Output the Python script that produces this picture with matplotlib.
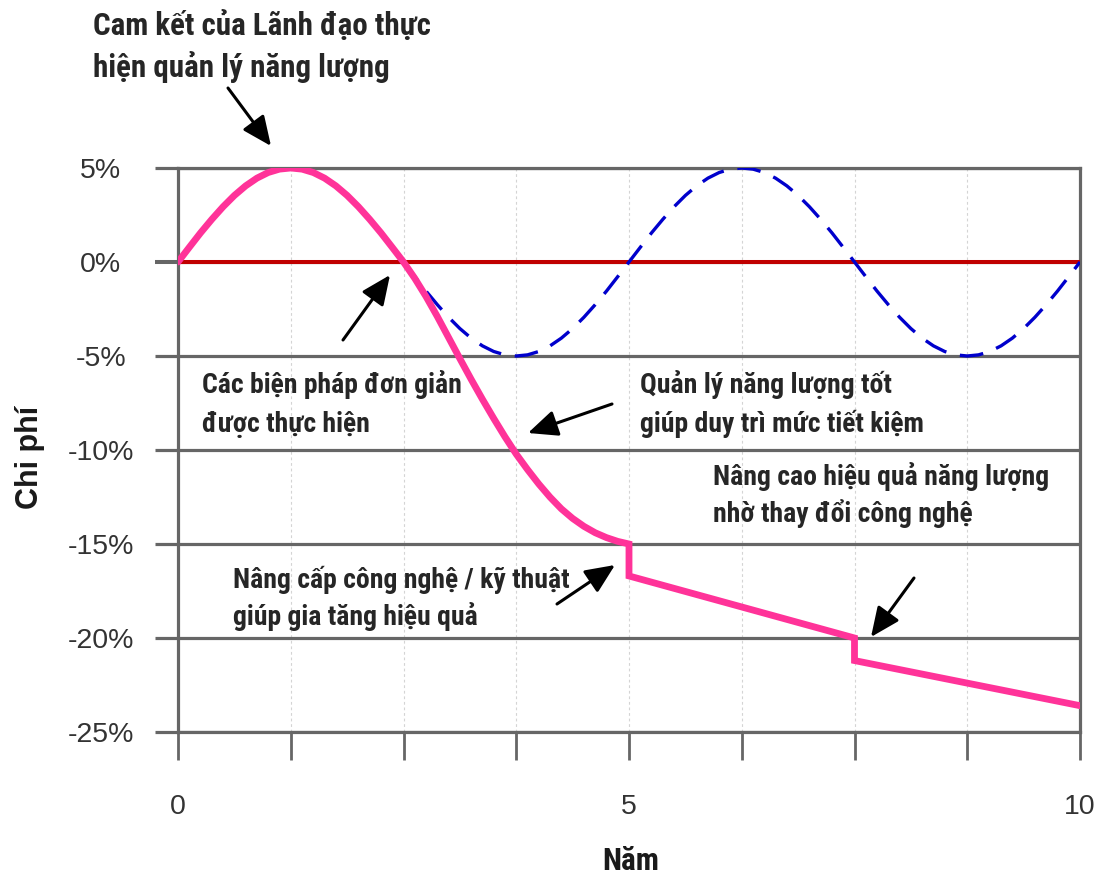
import numpy as np
import matplotlib
matplotlib.use("Agg")
import matplotlib.pyplot as plt
from matplotlib import font_manager
from matplotlib.patches import ArrowStyle

# ---------------- data ----------------
years_tick = [0, 1.25, 2.5, 3.75, 5, 6.25, 7.5, 8.75, 10]
year_labels = ["0", "", "", "", "5", "", "", "", "10"]
cost_ticks = [5, 0, -5, -10, -15, -20, -25]
cost_labels = ["5%", "0%", "-5%", "-10%", "-15%", "-20%", "-25%"]

# actual cost path (pink), smooth part years 0..5 every 0.125
pink_years = [0.0, 0.125, 0.25, 0.375, 0.5, 0.625, 0.75, 0.875, 1.0, 1.125, 1.25,
              1.375, 1.5, 1.625, 1.75, 1.875, 2.0, 2.125, 2.25, 2.375, 2.5,
              2.625, 2.75, 2.875, 3.0, 3.125, 3.25, 3.375, 3.5, 3.625, 3.75,
              3.875, 4.0, 4.125, 4.25, 4.375, 4.5, 4.625, 4.75, 4.875, 5.0,
              5.0, 7.5, 7.5, 10.0]
pink_cost = [0.0, 0.78, 1.55, 2.27, 2.94, 3.54, 4.05, 4.46, 4.76, 4.94, 5.0,
             4.94, 4.76, 4.46, 4.05, 3.54, 2.94, 2.27, 1.55, 0.78, 0.0,
             -0.87, -1.84, -2.9, -4.02, -5.14, -6.24, -7.3, -8.32, -9.3, -10.22,
             -11.04, -11.81, -12.51, -13.13, -13.64, -14.06, -14.4, -14.66, -14.86, -15.0,
             -16.7, -20.0, -21.2, -23.6]

# cost without sustained management (blue dashed), years 2.5..10 every 0.125
blue_years = [2.5 + 0.125 * i for i in range(61)]
blue_cost = [0.0, -0.78, -1.55, -2.27, -2.94, -3.54, -4.05, -4.46, -4.76, -4.94, -5.0,
             -4.94, -4.76, -4.46, -4.05, -3.54, -2.94, -2.27, -1.55, -0.78, 0.0,
             0.78, 1.55, 2.27, 2.94, 3.54, 4.05, 4.46, 4.76, 4.94, 5.0,
             4.94, 4.76, 4.46, 4.05, 3.54, 2.94, 2.27, 1.55, 0.78, 0.0,
             -0.78, -1.55, -2.27, -2.94, -3.54, -4.05, -4.46, -4.76, -4.94, -5.0,
             -4.94, -4.76, -4.46, -4.05, -3.54, -2.94, -2.27, -1.55, -0.78, 0.0]

base_years = [0, 10]
base_cost = [0, 0]

notes = [
    ["Cam kết của Lãnh đạo thực", "hiện quản lý năng lượng"],
    ["Các biện pháp đơn giản", "được thực hiện"],
    ["Quản lý năng lượng tốt", "giúp duy trì mức tiết kiệm"],
    ["Nâng cao hiệu quả năng lượng", "nhờ thay đổi công nghệ"],
    ["Nâng cấp công nghệ / kỹ thuật", "giúp gia tăng hiệu quả"],
]

# ---------------- fonts ----------------
names = {f.name for f in font_manager.fontManager.ttflist}
narrow = None
for n in ["Liberation Sans Narrow", "Arial Narrow", "Roboto Condensed",
          "Open Sans Condensed", "DejaVu Sans Condensed"]:
    if n in names:
        narrow = n
        break
if narrow is not None:
    note_family = [narrow, "DejaVu Sans"]
    note_sizes = [22.3, 20.0, 20.0, 20.0, 20.0]
else:
    note_family = ["Liberation Sans", "DejaVu Sans"]
    note_sizes = [19.5, 17.5, 17.5, 17.5, 17.5]
base_family = ["Liberation Sans", "DejaVu Sans"]
plt.rcParams["font.family"] = base_family
plt.rcParams["lines.scale_dashes"] = False

W, H = 1115, 875
fig = plt.figure(figsize=(W / 100, H / 100), dpi=100)
ax = fig.add_axes([178 / W, 1 - 732 / H, (1080 - 178) / W, (732 - 168) / H])

GRID = "#666666"
ax.set_xlim(0, 10)
ax.set_ylim(-25, 5)
ax.set_axisbelow(True)

# grids
ax.grid(axis="y", color=GRID, lw=2.3)
ax.grid(axis="x", color="#d4d4d4", lw=0.8, ls=(0, (2, 2)))

# lines
ax.plot(base_years, base_cost, color="#C00000", lw=2.9, zorder=3, solid_capstyle="butt")
ax.plot(blue_years, blue_cost, color="#0000CC", lw=2.4, dashes=(17, 10), zorder=4)
ax.plot(pink_years, pink_cost, color="#FF3399", lw=4.9, zorder=5,
        solid_joinstyle="miter", solid_capstyle="round")

# spines
for s in ax.spines.values():
    s.set_color(GRID)
    s.set_linewidth(2.3)

# ticks
ax.set_xticks(years_tick)
ax.set_xticklabels(year_labels)
ax.set_yticks(cost_ticks)
ax.set_yticklabels(cost_labels)
ax.tick_params(axis="x", length=20, width=2.0, color=GRID, direction="out",
               pad=25, labelsize=20.5, labelcolor="#333333")
ax.tick_params(axis="y", length=16.5, width=2.3, color=GRID, direction="out",
               pad=39, labelsize=20.5, labelcolor="#333333")
for lbl in ax.get_yticklabels():
    lbl.set_ha("center")
for t, v in zip(ax.yaxis.get_major_ticks(), cost_ticks):
    if v == 0:
        t.tick1line.set_color("#C00000")
        t.tick1line.set_markeredgewidth(2.9)

# axis titles
fig.text(30 / W, 1 - 457 / H, "Chi phí", rotation=90, ha="center", va="center",
         fontsize=22, fontweight="bold", color="#1a1a1a", family=base_family)
fig.text(631 / W, 1 - 870 / H, "Năm", ha="center", va="baseline",
         fontsize=22.5, fontweight="bold", color="#1a1a1a", family=note_family)

# annotation texts: (left px, baseline px of each line)
note_pos = [
    (93, [35, 77]),
    (202, [393, 432]),
    (640, [393, 432]),
    (713, [485, 522]),
    (233, [588, 625]),
]
for lines, (x0, bases), fs in zip(notes, note_pos, note_sizes):
    for line, b in zip(lines, bases):
        fig.text(x0 / W, 1 - b / H, line, ha="left", va="baseline",
                 fontsize=fs, fontweight="bold", color="#262626",
                 family=note_family)

# arrows (tail -> head) in image pixel coords
arrows = [
    ((228, 88), (271, 146)),
    ((343, 340), (390, 275)),
    ((612, 404), (528, 433)),
    ((914, 578), (871, 637)),
    ((557, 604), (615, 565)),
]
style = ArrowStyle("-|>", head_length=0.9, head_width=0.4)
for (tx, ty), (hx, hy) in arrows:
    ax.annotate("", xy=(hx, H - hy), xytext=(tx, H - ty),
                xycoords="figure pixels", textcoords="figure pixels",
                arrowprops=dict(arrowstyle=style, color="black", lw=2.2,
                                mutation_scale=20, shrinkA=0, shrinkB=0),
                annotation_clip=False)

fig.savefig("out.png", dpi=100)
